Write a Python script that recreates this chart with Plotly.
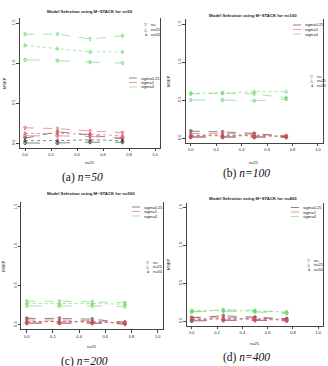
import plotly.graph_objects as go

W, H = 328, 366

x_vals = [0, 0.25, 0.5, 0.75]
x_ticks = [0, 0.2, 0.4, 0.6, 0.8, 1.0]
x_ticktext = ["0.0", "0.2", "0.4", "0.6", "0.8", "1.0"]
y_ticks = [0, 0.5, 1.0, 1.5]
y_ticktext = ["0.0", "0.5", "1.0", "1.5"]
sigmas = ["sigma0.25", "sigma1", "sigma4"]
nus = ["nu", "nu25", "nu50"]
sample_sizes = ["50", "100", "200", "400"]
captions = ["(a)", "(b)", "(c)", "(d)"]

# n = 50
a_s025 = [[0.06, 0.14, 0.10, 0.05], [0.03, 0.03, 0.04, 0.03], [0.00, 0.00, 0.01, 0.01]]
a_s1 = [[0.19, 0.18, 0.15, 0.13], [0.12, 0.12, 0.11, 0.09], [0.09, 0.09, 0.08, 0.07]]
a_s4 = [[1.36, 1.36, 1.30, 1.34], [1.22, 1.18, 1.14, 1.14], [1.04, 1.03, 1.01, 1.00]]
# n = 100
b_s025 = [[0.09, 0.08, 0.06, 0.02], [0.03, 0.03, 0.03, 0.02], [0.01, 0.01, 0.01, 0.01]]
b_s1 = [[0.06, 0.06, 0.05, 0.03], [0.04, 0.04, 0.04, 0.02], [0.02, 0.02, 0.02, 0.01]]
b_s4 = [[0.58, 0.59, 0.58, 0.53], [0.59, 0.59, 0.61, 0.61], [0.50, 0.50, 0.49, 0.51]]
# n = 200
c_s025 = [[0.08, 0.08, 0.07, 0.03], [0.04, 0.04, 0.04, 0.02], [0.02, 0.02, 0.02, 0.01]]
c_s1 = [[0.06, 0.06, 0.05, 0.03], [0.04, 0.04, 0.03, 0.02], [0.02, 0.02, 0.02, 0.01]]
c_s4 = [[0.30, 0.30, 0.29, 0.28], [0.27, 0.27, 0.27, 0.26], [0.24, 0.24, 0.24, 0.23]]
# n = 400
d_s025 = [[0.04, 0.07, 0.05, 0.03], [0.02, 0.03, 0.03, 0.02], [0.00, 0.01, 0.01, 0.01]]
d_s1 = [[0.05, 0.05, 0.04, 0.02], [0.03, 0.03, 0.02, 0.01], [0.01, 0.01, 0.01, 0.00]]
d_s4 = [[0.12, 0.15, 0.14, 0.11], [0.14, 0.14, 0.13, 0.12], [0.12, 0.13, 0.12, 0.10]]

err = [0.02, 0.02, 0.02, 0.02]

panels_data = [
    [a_s025, a_s1, a_s4],
    [b_s025, b_s1, b_s4],
    [c_s025, c_s1, c_s4],
    [d_s025, d_s1, d_s4],
]

colors = ["#333333", "#e2505a", "#6ad46a"]
nu_dash = ["dash", "dot", "longdash"]
nu_sym = ["triangle-down-open", "triangle-up-open", "circle-open"]
nu_sym_txt = ["▽", "△", "ǂ"]

# pixel geometry of each panel: (x0px at x=0, px per unit x, y0px at y=0, px per unit y)
geom = [
    (25.0, 130.0, 143.0, 80.0),
    (190.7, 127.3, 138.0, 76.0),
    (26.7, 131.0, 324.7, 78.5),
    (191.7, 126.6, 321.0, 75.8),
]
title_pos = [(90, 11), (253, 15.5), (91, 193.5), (253, 198.5)]
caption_pos = [(82, 177), (246, 173), (84, 361), (246, 357)]
xlab_y = [162, 162, 346, 343]
ylab_x = [4, 168, 4, 168]
sig_leg = [(129, 78), (293, 25), (132, 207), (291, 207.5)]
nu_leg = [(146, 25), (312, 76), (148, 262), (309, 260)]

fig = go.Figure()
layout = dict(
    width=W, height=H, margin=dict(l=0, r=0, t=0, b=0, autoexpand=False),
    paper_bgcolor="white", plot_bgcolor="white", showlegend=False,
    font=dict(family="Liberation Sans, Arial, sans-serif", color="#222222"),
)
annotations = []
shapes = []

def px(xp):
    return xp / W

def py(yp):
    return 1 - yp / H

for p in range(4):
    x0, sx, y0, sy = geom[p]
    xr = [-0.04, 1.04]
    yr = [-0.06, 1.56]
    xd = [px(x0 + xr[0] * sx), px(x0 + xr[1] * sx)]
    yd = [py(y0 - yr[0] * sy), py(y0 - yr[1] * sy)]
    xa = "xaxis" if p == 0 else f"xaxis{p+1}"
    ya = "yaxis" if p == 0 else f"yaxis{p+1}"
    xref = "x" if p == 0 else f"x{p+1}"
    yref = "y" if p == 0 else f"y{p+1}"
    layout[xa] = dict(domain=xd, range=xr, anchor=yref, showgrid=False, zeroline=False,
                      showline=True, linecolor="#444444", linewidth=0.7, ticks="outside",
                      ticklen=2.5, tickwidth=0.6, tickcolor="#444444",
                      tickvals=x_ticks, ticktext=x_ticktext, tickfont=dict(size=4),
                      automargin=False)
    layout[ya] = dict(domain=yd, range=yr, anchor=xref, showgrid=False, zeroline=False,
                      showline=True, mirror=True, linecolor="#444444", linewidth=0.7,
                      ticks="outside", ticklen=2.5, tickwidth=0.6, tickcolor="#444444",
                      tickvals=y_ticks, ticktext=y_ticktext, tickfont=dict(size=4),
                      tickangle=-90, automargin=False)
    for si in range(3):
        for ni in range(3):
            fig.add_trace(go.Scatter(
                x=x_vals, y=panels_data[p][si][ni], xaxis=xref, yaxis=yref,
                mode="lines+markers",
                line=dict(color=colors[si], width=0.6, dash=nu_dash[ni]),
                marker=dict(symbol=nu_sym[ni], size=3, color=colors[si],
                            line=dict(width=0.5, color=colors[si])),
                error_y=dict(type="data", array=err, color=colors[si], thickness=0.5, width=1),
            ))
    tx, ty = title_pos[p]
    annotations.append(dict(x=px(tx), y=py(ty), xref="paper", yref="paper", showarrow=False,
                            text=f"<b>Model Selection using M−STACK for n={sample_sizes[p]}</b>",
                            font=dict(size=4.3, color="#222222"), xanchor="center", yanchor="middle"))
    cx, cy = caption_pos[p]
    annotations.append(dict(x=px(cx), y=py(cy), xref="paper", yref="paper", showarrow=False,
                            text=f"{captions[p]} <i>n={sample_sizes[p]}</i>",
                            font=dict(size=11.5, color="#111111",
                                      family="Liberation Serif"),
                            xanchor="center", yanchor="middle"))
    # axis titles
    annotations.append(dict(x=px(x0 + 0.5 * sx), y=py(xlab_y[p]), xref="paper", yref="paper",
                            showarrow=False, text="nu25", font=dict(size=4),
                            xanchor="center", yanchor="middle"))
    annotations.append(dict(x=px(ylab_x[p]), y=py(y0 - 0.75 * sy), xref="paper", yref="paper",
                            showarrow=False, text="MSEP", font=dict(size=4), textangle=-90,
                            xanchor="center", yanchor="middle"))
    # sigma legend
    lx, ly = sig_leg[p]
    for si in range(3):
        yy = ly + si * 4.5
        shapes.append(dict(type="line", xref="paper", yref="paper",
                           x0=px(lx), x1=px(lx + 8), y0=py(yy), y1=py(yy),
                           line=dict(color=colors[si], width=0.6,
                                     dash=["solid", "dash", "solid"][si])))
        annotations.append(dict(x=px(lx + 10), y=py(yy), xref="paper", yref="paper",
                                showarrow=False, text=sigmas[si], font=dict(size=4),
                                xanchor="left", yanchor="middle"))
    # nu legend
    mx, my = nu_leg[p]
    for ni in range(3):
        yy = my + ni * 4.5
        annotations.append(dict(x=px(mx), y=py(yy), xref="paper", yref="paper",
                                showarrow=False, text=nu_sym_txt[ni], font=dict(size=4),
                                xanchor="center", yanchor="middle"))
        annotations.append(dict(x=px(mx + 3), y=py(yy), xref="paper", yref="paper",
                                showarrow=False, text=nus[ni], font=dict(size=4),
                                xanchor="left", yanchor="middle"))

layout["annotations"] = annotations
layout["shapes"] = shapes
fig.update_layout(**layout)
fig.write_html("out.html")
